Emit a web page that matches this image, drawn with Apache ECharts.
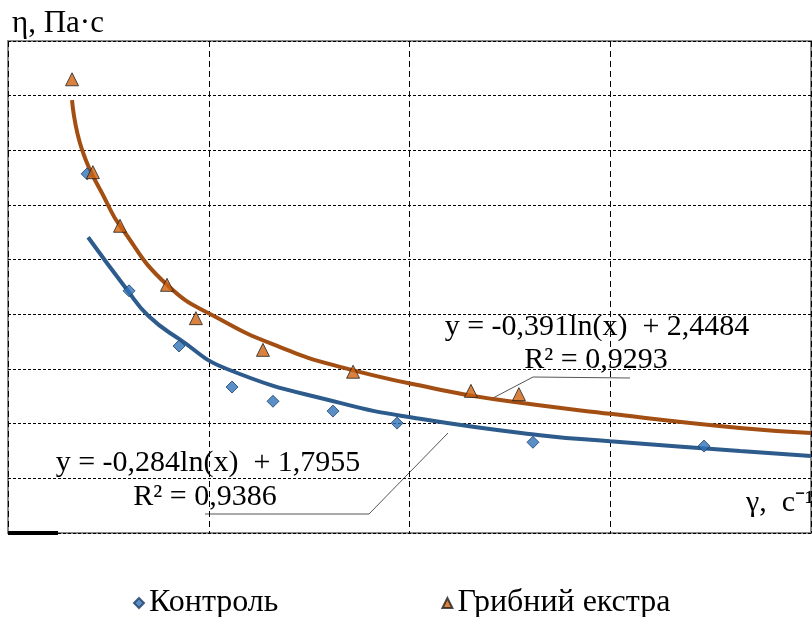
<!DOCTYPE html>
<html>
<head>
<meta charset="utf-8">
<script src="https://cdn.jsdelivr.net/npm/echarts@6/dist/echarts.min.js"></script>
<style>
  html, body { margin: 0; padding: 0; background: #fff; }
  #graph { width: 812px; height: 617px; }
</style>
</head>
<body>
<div id="graph"></div>
<script>
// measured points (arbitrary units: x 0..400, y 0..9)
var controlX = [39.4, 60.3, 85.2, 111.6, 132.0, 161.9, 193.8, 261.5, 346.7];
var controlY = [6.57, 4.43, 3.42, 2.67, 2.41, 2.23, 2.01, 1.66, 1.59];
var extractX = [31.9, 42.3, 55.8, 79.2, 93.6, 127.0, 171.9, 230.6, 254.5];
var extractY = [8.30, 6.60, 5.62, 4.54, 3.93, 3.35, 2.95, 2.60, 2.54];

// trend curves
var controlTrendX = [39.9, 59.3, 70.0, 85.2, 109.1, 165.4, 205.2, 265.0, 299.9, 364.6, 400];
var controlTrendY = [5.41, 4.45, 3.97, 3.55, 3.00, 2.38, 2.09, 1.79, 1.68, 1.50, 1.41];
var extractTrendX = [31.9, 36.9, 49.3, 55.8, 79.2, 105.6, 135.5, 165.4, 215.2, 241.6, 299.9, 364.6, 400];
var extractTrendY = [7.92, 7.01, 6.04, 5.62, 4.54, 3.91, 3.40, 3.04, 2.62, 2.45, 2.18, 1.92, 1.83];

var seriesNames = ['Контроль', 'Грибний екстра'];
var controlEq = ['y = -0,284ln(x)  + 1,7955', 'R² = 0,9386'];
var extractEq = ['y = -0,391ln(x)  + 2,4484', 'R² = 0,9293'];

function zip(xs, ys) {
    return xs.map(function (x, i) { return [x, ys[i]]; });
}

var font = '"Liberation Serif", "Times New Roman", serif';
var dom = document.getElementById('graph');
var chart = echarts.init(dom);

chart.setOption({
    animation: false,
    grid: {
        left: 8, right: 1, top: 41, bottom: 84,
        show: true, borderColor: '#8a8a8a', borderWidth: 2
    },
    xAxis: {
        type: 'value', min: 0, max: 400, interval: 100,
        axisLine: { show: false }, axisTick: { show: false }, axisLabel: { show: false },
        splitLine: { lineStyle: { color: '#000', type: [6, 4], width: 1 } }
    },
    yAxis: {
        type: 'value', min: 0, max: 9, interval: 1,
        axisLine: { show: false }, axisTick: { show: false }, axisLabel: { show: false },
        splitLine: { lineStyle: { color: '#000', type: [3, 2], width: 1 } }
    },
    legend: {
        data: [
            { name: seriesNames[0], icon: 'diamond' },
            { name: seriesNames[1], icon: 'triangle' }
        ],
        left: 128, top: 582,
        itemWidth: 10, itemHeight: 10, itemGap: 163,
        textStyle: { fontFamily: font, fontSize: 32, color: '#000' }
    },
    graphic: [
        { type: 'text', left: 12, top: 8,
          style: { text: 'η, Па·с', font: '31px ' + font, fill: '#000' } },
        { type: 'text', left: 746, top: 488,
          style: { text: 'γ,  с⁻¹', font: '30px ' + font, fill: '#000' } },
        { type: 'line', shape: { x1: 8, y1: 533, x2: 58, y2: 533 },
          style: { stroke: '#000', lineWidth: 4 } },
        // equation labels and leader lines
        { type: 'text', x: 597, y: 327,
          style: { text: extractEq[0], font: '30px ' + font, fill: '#000', align: 'center', verticalAlign: 'middle' } },
        { type: 'text', x: 596, y: 360,
          style: { text: extractEq[1], font: '30px ' + font, fill: '#000', align: 'center', verticalAlign: 'middle' } },
        { type: 'polyline', shape: { points: [[493, 398], [533, 377], [630, 378]] },
          style: { stroke: '#555', lineWidth: 1, fill: null } },
        { type: 'text', x: 208, y: 463,
          style: { text: controlEq[0], font: '30px ' + font, fill: '#000', align: 'center', verticalAlign: 'middle' } },
        { type: 'text', x: 205, y: 497,
          style: { text: controlEq[1], font: '30px ' + font, fill: '#000', align: 'center', verticalAlign: 'middle' } },
        { type: 'polyline', shape: { points: [[448, 433], [369, 514], [205, 514]] },
          style: { stroke: '#555', lineWidth: 1, fill: null } }
    ],
    series: [
        {
            name: seriesNames[0] + ' trend', type: 'line', smooth: 0.5,
            symbol: 'none', data: zip(controlTrendX, controlTrendY),
            lineStyle: { color: '#2C5B8C', width: 4 }, z: 2
        },
        {
            name: seriesNames[1] + ' trend', type: 'line', smooth: 0.5,
            symbol: 'none', data: zip(extractTrendX, extractTrendY),
            lineStyle: { color: '#A34E12', width: 4 }, z: 2
        },
        {
            name: seriesNames[0], type: 'scatter', symbol: 'diamond', symbolSize: 12,
            data: zip(controlX, controlY),
            itemStyle: { color: '#2F73B8', borderColor: '#1F3F66', borderWidth: 1 }, z: 3
        },
        {
            name: seriesNames[1], type: 'scatter', symbol: 'triangle', symbolSize: 13,
            data: zip(extractX, extractY),
            itemStyle: { color: '#D0620E', borderColor: '#222', borderWidth: 1 }, z: 3
        }
    ]
});
</script>
</body>
</html>
